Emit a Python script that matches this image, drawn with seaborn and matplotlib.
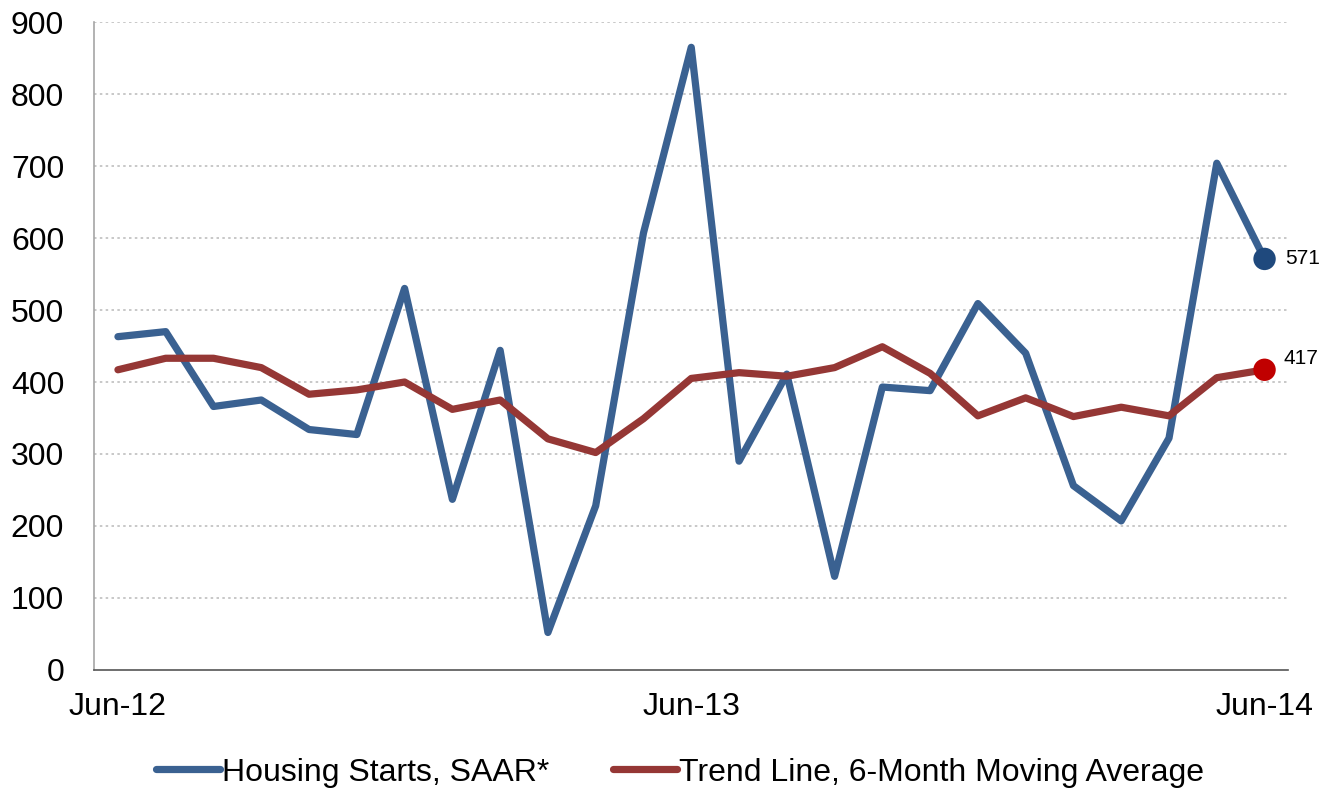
import pandas as pd
import matplotlib
matplotlib.use("Agg")
import matplotlib.pyplot as plt
import seaborn as sns

# --- DATA --- #

# monthly categories, Jun-12 .. Jun-14
months = ["Jun-12", "Jul-12", "Aug-12", "Sep-12", "Oct-12", "Nov-12", "Dec-12",
          "Jan-13", "Feb-13", "Mar-13", "Apr-13", "May-13", "Jun-13",
          "Jul-13", "Aug-13", "Sep-13", "Oct-13", "Nov-13", "Dec-13",
          "Jan-14", "Feb-14", "Mar-14", "Apr-14", "May-14", "Jun-14"]

# housing starts, seasonally adjusted annual rate
starts = [463, 470, 366, 375, 334, 327, 530, 237, 444, 52, 228, 607, 865,
          290, 411, 130, 393, 388, 509, 440, 256, 207, 322, 704, 571]

# 6-month moving average trend
trend = [417, 433, 433, 420, 383, 389, 400, 362, 375, 321, 302, 349, 405,
         413, 408, 420, 449, 412, 353, 378, 352, 365, 353, 406, 417]

shown_ticks = ["Jun-12", "Jun-13", "Jun-14"]
y_ticks = [0, 100, 200, 300, 400, 500, 600, 700, 800, 900]

blue_line = "#3A6191"
red_line = "#953735"
blue_dot = "#1F497D"
red_dot = "#C00000"

df = pd.DataFrame({"idx": range(len(months)), "month": months,
                   "starts": starts, "trend": trend})

# --- PLOT --- #

sns.set_style("white")
plt.rcParams['font.family'] = ['Liberation Sans', 'DejaVu Sans']
plt.rcParams['text.color'] = 'black'
plt.rcParams['xtick.labelcolor'] = 'black'
plt.rcParams['ytick.labelcolor'] = 'black'

fig = plt.figure(figsize=(13.36, 7.9), dpi=100)
ax = fig.add_axes([0.0704, 0.152, 0.894, 0.82])

sns.lineplot(data=df, x="idx", y="starts", ax=ax, color=blue_line, linewidth=5.2,
             label="Housing Starts, SAAR*")
sns.lineplot(data=df, x="idx", y="trend", ax=ax, color=red_line, linewidth=5.2,
             label="Trend Line, 6-Month Moving Average")

# end point markers and labels
last = df.iloc[-1]
sns.scatterplot(x=[last["idx"]], y=[last["starts"]], ax=ax, color=blue_dot,
                s=260, edgecolor="none", zorder=5, legend=False)
sns.scatterplot(x=[last["idx"]], y=[last["trend"]], ax=ax, color=red_dot,
                s=260, edgecolor="none", zorder=5, legend=False)
ax.annotate(f"{last['starts']}", xy=(last["idx"], last["starts"]), xytext=(15, 0),
            textcoords="offset points", va="center", ha="left", fontsize=15,
            color="black", annotation_clip=False)
ax.annotate(f"{last['trend']}", xy=(last["idx"], last["trend"]), xytext=(14, 8),
            textcoords="offset points", va="center", ha="left", fontsize=15,
            color="black", annotation_clip=False)

# axes limits and ticks
ax.set_xlim(-0.5, len(months) - 0.5)
ax.set_ylim(0, 900)
ax.set_yticks(y_ticks)
ax.set_yticklabels([str(v) for v in y_ticks], fontsize=23)
tick_pos = [months.index(m) for m in shown_ticks]
ax.set_xticks(tick_pos)
ax.set_xticklabels(shown_ticks, fontsize=23)
ax.set_xticks([p - 0.5 for p in tick_pos], minor=True)
ax.tick_params(axis="x", which="major", length=0, pad=16, labelcolor="black")
ax.tick_params(axis="x", which="minor", length=6, width=1, color="#555555", direction="out")
ax.tick_params(axis="y", length=6.5, width=1, color="#A6A6A6", direction="out", pad=15,
               labelcolor="black")
ax.set_xlabel("")
ax.set_ylabel("")

# gridlines
for v in y_ticks[1:]:
    ax.axhline(v, color="#BFBFBF", linewidth=1.2, linestyle=(0, (1.5, 2)), zorder=0)

for side in ["top", "right"]:
    ax.spines[side].set_visible(False)
ax.spines["left"].set_color("#A6A6A6")
ax.spines["left"].set_linewidth(1.2)
ax.spines["bottom"].set_color("#555555")
ax.spines["bottom"].set_linewidth(1.2)

# legend at bottom
handles, labels = ax.get_legend_handles_labels()
ax.get_legend().remove()
leg = fig.legend(handles, labels, loc="center", bbox_to_anchor=(0.509, 0.022), ncol=2,
                 frameon=False, fontsize=23, handlelength=2.0, handletextpad=0.05,
                 columnspacing=2.0)
for t in leg.get_texts():
    t.set_color("black")

fig.savefig("out.png", dpi=100)
